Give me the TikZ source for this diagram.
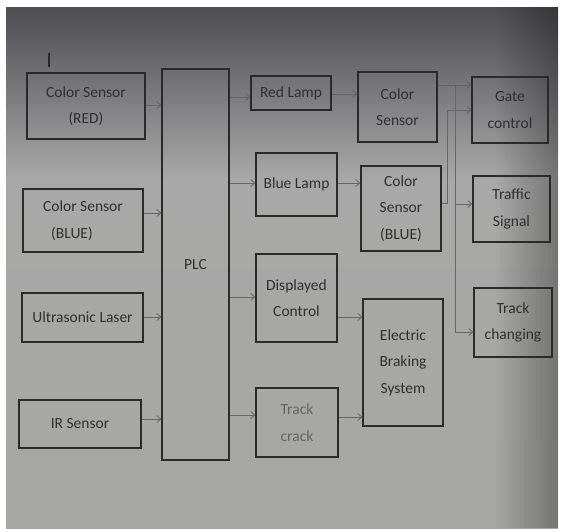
\documentclass[tikz,border=0pt]{standalone}
\usepackage{fontspec}
\setmainfont{Carlito}
\usetikzlibrary{arrows.meta,fadings}
\definecolor{bgtop}{HTML}{4E4E53}
\definecolor{bgmid}{HTML}{A8A8A8}
\definecolor{bgbot}{HTML}{A6A6A3}
\definecolor{boxc}{HTML}{2A2A2A}
\definecolor{txt}{HTML}{303030}
\definecolor{arrc}{HTML}{666666}
\tikzfading[name=fadeR, left color=transparent!100, right color=transparent!0]
\begin{document}
\begin{tikzpicture}[x=1pt,y=-1pt,
  box/.style={draw=boxc, line width=1.3pt, inner sep=0pt, align=center, text=txt,
    font=\fontsize{15.5}{26.5}\selectfont},
  arr/.style={draw=arrc, line width=0.8pt, -{Straight Barb[length=4pt,width=7pt]}},
  ln/.style={draw=arrc, line width=0.8pt}]
\useasboundingbox (0,0) rectangle (563,531);
\fill[white] (0,0) rectangle (563,531);
\shade[top color=bgtop, bottom color=bgmid] (6,7) rectangle (558,180);
\shade[top color=bgmid, bottom color=bgbot] (6,180) rectangle (558,528);
\fill[black, opacity=0.3, path fading=fadeR] (495,7) rectangle (558,528);

% stray mark
\draw[boxc, line width=1.2pt] (49,53) -- (49,67);

% left column
\node[box, minimum width=118pt, minimum height=66pt] (csred) at (86,106) {Color Sensor\\(RED)};
\node[box, minimum width=120pt, minimum height=63pt] (csblue) at (83,220.5) {Color Sensor\\\hspace*{-22pt}(BLUE)};
\node[box, minimum width=121pt, minimum height=49pt] (ultra) at (82.5,317.5) {Ultrasonic Laser};
\node[box, minimum width=122pt, minimum height=48pt] (ir) at (80,424) {IR Sensor};

% PLC
\node[box, minimum width=67pt, minimum height=391pt] (plc) at (195.5,264.5) {PLC};

% middle column
\node[box, minimum width=80pt, minimum height=34pt] (redlamp) at (291,93) {Red Lamp};
\node[box, minimum width=81pt, minimum height=63pt] (bluelamp) at (296.5,184.5) {Blue Lamp};
\node[box, minimum width=81pt, minimum height=88pt] (disp) at (296.5,298) {Displayed\\Control};
\node[box, minimum width=82pt, minimum height=69pt, text=txt!75] (crack) at (297,422.5) {Track\\crack};

% third column
\node[box, minimum width=79pt, minimum height=70pt] (cs) at (397.5,107) {Color\\Sensor};
\node[box, minimum width=80pt, minimum height=85pt] (csb2) at (401,208.5) {Color\\Sensor\\(BLUE)};
\node[box, minimum width=80pt, minimum height=127pt] (ebs) at (403,362.5) {Electric\\Braking\\System};

% right column
\node[box, minimum width=76pt, minimum height=66pt] (gate) at (510,110) {Gate\\control};
\node[box, minimum width=77pt, minimum height=66pt] (traffic) at (511.5,209) {Traffic\\Signal};
\node[box, minimum width=78pt, minimum height=69pt] (trackch) at (513,322.5) {Track\\changing};

% inputs to PLC
\draw[arr] (csred.east |- 0,105) -- (plc.west |- 0,105);
\draw[arr] (csblue.east |- 0,213) -- (plc.west |- 0,213);
\draw[arr] (ultra.east |- 0,317) -- (plc.west |- 0,317);
\draw[arr] (ir.east |- 0,419) -- (plc.west |- 0,419);

% PLC outputs
\draw[arr] (plc.east |- 0,97) -- (redlamp.west |- 0,97);
\draw[arr] (plc.east |- 0,183) -- (bluelamp.west |- 0,183);
\draw[arr] (plc.east |- 0,297) -- (disp.west |- 0,297);
\draw[arr] (plc.east |- 0,415) -- (crack.west |- 0,415);

% middle to third
\draw[arr] (redlamp.east |- 0,94) -- (cs.west |- 0,94);
\draw[arr] (bluelamp.east |- 0,183) -- (csb2.west |- 0,183);
\draw[arr] (disp.east |- 0,317) -- (ebs.west |- 0,317);
\draw[arr] (crack.east |- 0,417) -- (ebs.west |- 0,417);

% right side
\coordinate (j1) at (455,85);
\coordinate (k1) at (447,110);
\draw[arr] (cs.east |- 0,85) -- (gate.west |- 0,85);
\draw[arr] (j1) |- (trackch.west |- 0,332);
\draw[arr] (j1 |- 0,204) -- (traffic.west |- 0,204);
\draw[arr] (csb2.east |- 0,203) -| (k1) -- (gate.west |- k1);
\end{tikzpicture}
\end{document}
